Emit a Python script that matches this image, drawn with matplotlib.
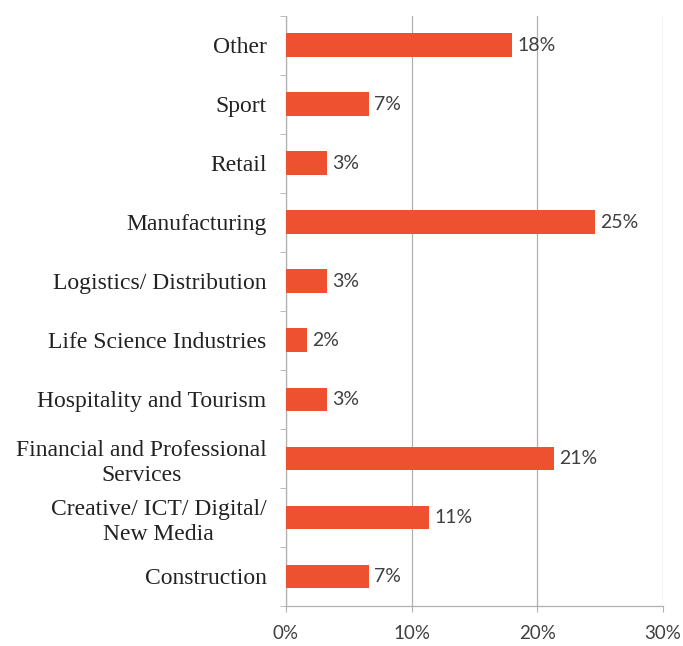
import matplotlib

matplotlib.use("Agg")
import matplotlib.pyplot as plt
import numpy as np
from matplotlib.ticker import FixedLocator, PercentFormatter


SECTORS = [
    "Other",
    "Sport",
    "Retail",
    "Manufacturing",
    "Logistics/ Distribution",
    "Life Science Industries",
    "Hospitality and Tourism",
    "Financial and Professional\nServices",
    "Creative/ ICT/ Digital/\nNew Media",
    "Construction",
]
SHARE = [18.0, 6.6, 3.3, 24.6, 3.3, 1.7, 3.3, 21.3, 11.4, 6.6]
X_TICKS = [0, 10, 20, 30]

BAR_COLOR = "#EE5130"
AXIS_COLOR = "#B0B0B0"


def main():
    fig = plt.figure(figsize=(6.83, 6.46), dpi=100)
    ax = fig.add_axes([0.4187, 0.0619, 0.5520, 0.9141])

    y = np.arange(len(SECTORS))
    ax.barh(y, SHARE, height=0.4, color=BAR_COLOR, zorder=3)

    for yi, v in zip(y, SHARE):
        ax.text(v + 0.4, yi, f"{v:.0f}%", va="center", ha="left",
                fontsize=14, family="Lato", color="#404040")

    ax.set_ylim(len(SECTORS) - 0.5, -0.5)
    ax.set_xlim(0, 30)
    ax.set_yticks(y)
    ax.set_yticklabels(SECTORS, family="Liberation Serif", fontsize=17,
                       color="#222222", ha="right", multialignment="center",
                       linespacing=1.25)
    ax.tick_params(axis="y", which="major", length=0, pad=14)
    ax.yaxis.set_minor_locator(FixedLocator(np.arange(len(SECTORS) + 1) - 0.5))
    ax.tick_params(axis="y", which="minor", length=4, color=AXIS_COLOR)

    ax.set_xticks(X_TICKS)
    ax.xaxis.set_major_formatter(PercentFormatter(decimals=0))
    ax.tick_params(axis="x", length=4, color=AXIS_COLOR, pad=10,
                   labelsize=13.5, labelcolor="#404040")
    for lab in ax.get_xticklabels():
        lab.set_family("Lato")

    ax.grid(axis="x", color=AXIS_COLOR, linewidth=0.9, zorder=0)
    for side in ["top", "right"]:
        ax.spines[side].set_visible(False)
    for side in ["left", "bottom"]:
        ax.spines[side].set_color(AXIS_COLOR)
        ax.spines[side].set_linewidth(0.9)

    fig.savefig("out.png", dpi=100)
    plt.close(fig)


if __name__ == "__main__":
    main()
